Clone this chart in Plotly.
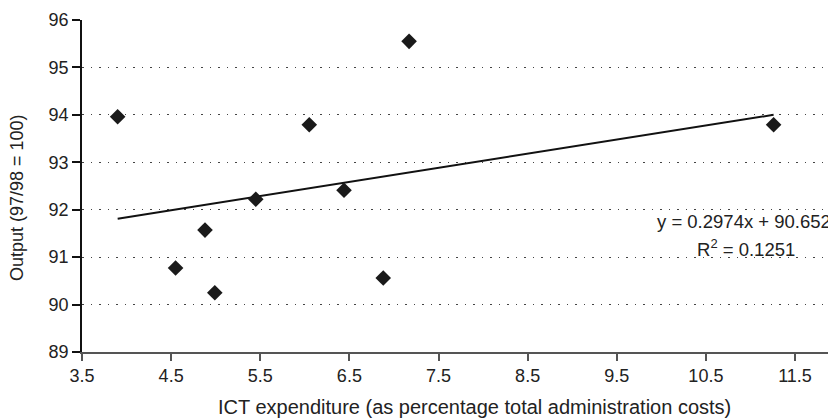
import plotly.graph_objects as go

# Data
ict_expenditure = [3.90, 4.55, 4.88, 4.99, 5.45, 6.05, 6.44, 6.88, 7.17, 11.26]
output_index = [93.96, 90.77, 91.57, 90.25, 92.22, 93.79, 92.41, 90.56, 95.55, 93.79]

trend_slope = 0.2974
trend_intercept = 90.652
r_squared = 0.1251

x_ticks = [3.5, 4.5, 5.5, 6.5, 7.5, 8.5, 9.5, 10.5, 11.5]
y_ticks = [89, 90, 91, 92, 93, 94, 95, 96]

FONT = "Liberation Sans, Arial, Helvetica, sans-serif"
TXT = "#222222"

# page body has an 8px margin; plot area in figure px
L, R, T, B = 74, 828, 12, 344
W, H = 828, 410


def px(fx):
    return (fx - L) / (R - L)


def py(fy):
    return (B - fy) / (B - T)


x0, x1 = min(ict_expenditure), max(ict_expenditure)
trend_x = [x0, x1]
trend_y = [trend_slope * v + trend_intercept for v in trend_x]

fig = go.Figure()
fig.add_trace(go.Scatter(x=trend_x, y=trend_y, mode="lines",
                         line=dict(color="#111111", width=2), hoverinfo="skip"))
fig.add_trace(go.Scatter(x=ict_expenditure, y=output_index, mode="markers",
                         marker=dict(symbol="diamond", size=12, color="#1a1a1a")))

fig.update_layout(
    width=W, height=H,
    margin=dict(l=L, r=W - R, t=T, b=H - B),
    paper_bgcolor="white", plot_bgcolor="white",
    showlegend=False,
    font=dict(family=FONT, size=18, color=TXT),
    xaxis=dict(range=[3.5, 11.96], tickvals=x_ticks,
               ticktext=[f"{v:.1f}" for v in x_ticks],
               showgrid=False, zeroline=False,
               showline=True, linecolor="#555555", linewidth=1.5,
               ticks="outside", ticklen=7, tickcolor="#555555", tickwidth=1.5,
               tickfont=dict(size=18, color=TXT)),
    yaxis=dict(range=[89, 96], tickvals=y_ticks,
               showgrid=True, gridcolor="#444444", griddash="1.5px,7px", gridwidth=1,
               zeroline=False,
               showline=True, linecolor="#111111", linewidth=1.5,
               ticks="outside", ticklen=8, tickcolor="#111111", tickwidth=1.5,
               tickfont=dict(size=18, color=TXT)),
    annotations=[
        dict(text="ICT expenditure (as percentage total administration costs)",
             xref="paper", yref="paper", x=px(466), y=py(399),
             showarrow=False, xanchor="center", yanchor="middle",
             font=dict(size=20, color=TXT)),
        dict(text="Output (97/98 = 100)", textangle=-90,
             xref="paper", yref="paper", x=px(9), y=py(190),
             showarrow=False, xanchor="center", yanchor="middle",
             font=dict(size=18, color=TXT)),
        dict(text=f"y = {trend_slope}x + {trend_intercept}",
             xref="paper", yref="paper", x=px(736), y=py(213),
             showarrow=False, xanchor="center", yanchor="middle",
             font=dict(size=18.5, color=TXT)),
        dict(text=f"R<sup>2</sup> = {r_squared}",
             xref="paper", yref="paper", x=px(738), y=py(240),
             showarrow=False, xanchor="center", yanchor="middle",
             font=dict(size=18.5, color=TXT)),
    ],
)

fig.write_html("out.html")
